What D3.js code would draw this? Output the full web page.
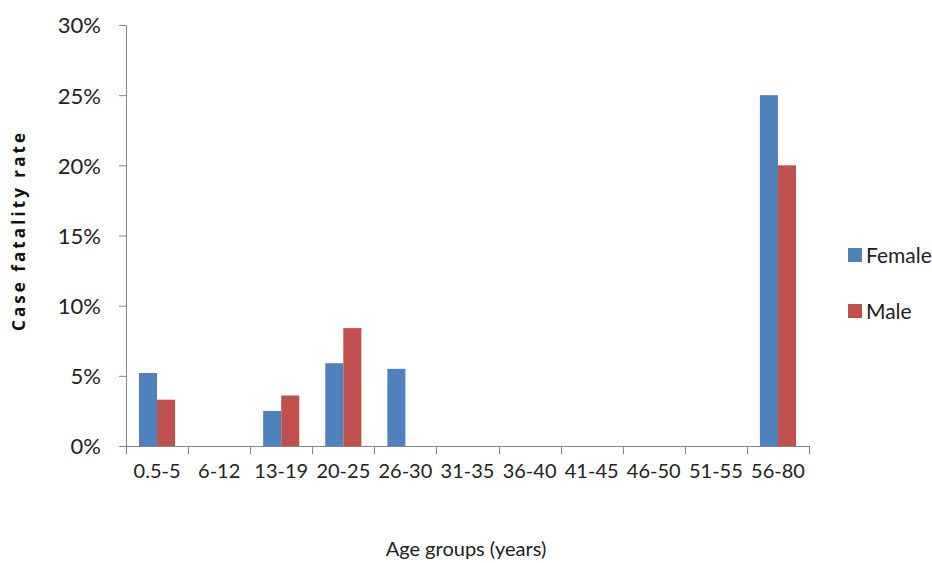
<!DOCTYPE html>
<html><head><meta charset="utf-8">
<script src="https://cdn.jsdelivr.net/npm/d3@7"></script>
<style>body{margin:0;background:#fff;}svg{display:block;}</style>
</head><body>
<script>
const categories = ["0.5-5","6-12","13-19","20-25","26-30","31-35","36-40","41-45","46-50","51-55","56-80"];
const femaleValues = [0.052,0,0.025,0.059,0.055,0,0,0,0,0,0.25];
const maleValues = [0.033,0,0.036,0.084,0,0,0,0,0,0,0.20];
const seriesNames = ["Female","Male"];
const yTicks = [0,0.05,0.10,0.15,0.20,0.25,0.30];

const W = 932, H = 563;
const colors = {Female:"#4F81BD", Male:"#C0504D"};
const font = "Lato,'Open Sans',sans-serif";
const svg = d3.select("body").append("svg").attr("width",W).attr("height",H);

const x0 = 126, x1 = 809, y0 = 446, y1 = 25;
const x = d3.scaleBand().domain(categories).range([x0,x1]).paddingInner(0).paddingOuter(0);
const xs = d3.scaleBand().domain(seriesNames).range([0,x.bandwidth()]).paddingInner(0).paddingOuter(0.72);
const y = d3.scaleLinear().domain([0,0.30]).range([y0,y1]);

const series = [{name:"Female",values:femaleValues},{name:"Male",values:maleValues}];
series.forEach(s=>{
  svg.append("g").selectAll("rect").data(categories).join("rect")
    .attr("x",(c)=>x(c)+xs(s.name))
    .attr("width",xs.bandwidth())
    .attr("y",(c,i)=>y(s.values[i]))
    .attr("height",(c,i)=>y0-y(s.values[i]))
    .attr("fill",colors[s.name]);
});

// y axis
const ya = d3.axisLeft(y).tickValues(yTicks).tickSize(7).tickPadding(18).tickFormat(d3.format(".0%"));
const gy = svg.append("g").attr("transform",`translate(${x0},0)`).call(ya);
gy.select(".domain").attr("stroke","#868686").attr("d",`M-7,${y1+0.5}H0.5V${y0+0.5}`);
gy.selectAll(".tick line").attr("stroke","#868686");
gy.selectAll(".tick text").attr("font-family",font).attr("font-size",22).attr("fill","#222").attr("dy","0.36em");

// x axis
const xa = d3.axisBottom(x).tickSize(0).tickPadding(18);
const gx = svg.append("g").attr("transform",`translate(0,${y0})`).call(xa);
gx.select(".domain").attr("stroke","#868686").attr("d",`M${x0},0.5H${x1}`);
gx.selectAll(".tick text").attr("font-family",font).attr("font-size",20).attr("fill","#222").attr("dy","0.71em");
// boundary ticks between categories
const bounds = categories.map(c=>x(c)).concat([x1]);
svg.append("g").selectAll("line").data(bounds).join("line")
  .attr("x1",d=>Math.round(d)+0.5).attr("x2",d=>Math.round(d)+0.5)
  .attr("y1",y0).attr("y2",y0+8).attr("stroke","#868686");

// axis titles
svg.append("text").attr("transform",`translate(25,232) rotate(-90)`)
  .attr("text-anchor","middle").attr("font-family","'Open Sans',Lato,sans-serif")
  .attr("font-weight","bold").attr("font-size",17).attr("textLength",198).attr("lengthAdjust","spacing")
  .attr("fill","#111").text("Case fatality rate");
svg.append("text").attr("x",466).attr("y",556).attr("text-anchor","middle")
  .attr("font-family",font).attr("font-size",20).attr("fill","#222").text("Age groups (years)");

// legend
const lg = svg.append("g");
seriesNames.forEach((n,i)=>{
  const cy = 255 + i*56;
  lg.append("rect").attr("x",848).attr("y",cy-7).attr("width",14).attr("height",14).attr("fill",colors[n]);
  lg.append("text").attr("x",866).attr("y",cy).attr("dy","0.36em").attr("font-family",font)
    .attr("font-size",21).attr("fill","#222").text(n);
});
</script>
</body></html>
